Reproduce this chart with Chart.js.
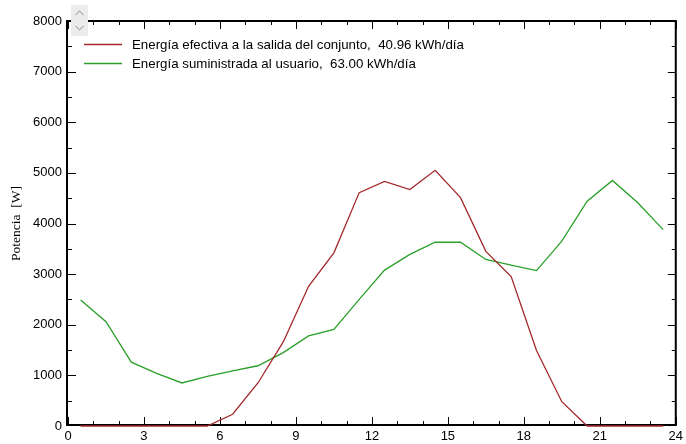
<!DOCTYPE html>
<html>
<head>
<meta charset="utf-8">
<script src="https://cdn.jsdelivr.net/npm/chart.js@4"></script>
<style>
  html, body { margin: 0; padding: 0; background: #fff; }
  #wrap { width: 686px; height: 444px; position: relative; }
</style>
</head>
<body>
<div id="wrap"><canvas id="c" width="686" height="444"></canvas></div>
<script>
// Hourly mean power (W), sampled at the middle of each hour
const hours = [0.5, 1.5, 2.5, 3.5, 4.5, 5.5, 6.5, 7.5, 8.5, 9.5, 10.5, 11.5,
               12.5, 13.5, 14.5, 15.5, 16.5, 17.5, 18.5, 19.5, 20.5, 21.5, 22.5, 23.5];
const efectiva = [0, 0, 0, 0, 0, 0, 232, 850, 1660, 2760, 3420, 4610,
                  4830, 4670, 5050, 4510, 3450, 2950, 1490, 480, 0, 0, 0, 0];
const suministrada = [2490, 2060, 1260, 1040, 850, 980, 1090, 1190, 1450, 1780, 1910, 2500,
                      3080, 3390, 3630, 3630, 3290, 3180, 3070, 3650, 4440, 4850, 4410, 3880];

const seriesNames = ['Energía efectiva a la salida del conjunto', 'Energía suministrada al usuario'];
const dailyTotals = ['40.96', '63.00'];
const seriesColors = ['#a3282c', '#2aa02a'];

const xTicks = [0, 3, 6, 9, 12, 15, 18, 21, 24];
const yTicks = [0, 1000, 2000, 3000, 4000, 5000, 6000, 7000, 8000];
const yTitle = 'Potencia  [W]';

const toPoints = vals => hours.map((h, i) => ({ x: h, y: vals[i] }));

// Frame, inward tick marks and the small scroll widget
const framePlugin = {
  id: 'frame',
  beforeDatasetsDraw(chart) {
    const { ctx, chartArea: a, scales: { x, y } } = chart;
    const bottom = a.bottom - 1; // frame sits just above the zero line
    ctx.save();
    ctx.strokeStyle = '#000';
    ctx.lineWidth = 1;
    // x ticks: every hour, longer every 3 h, bottom and top
    for (let h = 0; h <= 24; h++) {
      const px = Math.round(x.getPixelForValue(h)) + 0.5;
      const len = h % 3 === 0 ? 8 : 4;
      ctx.beginPath();
      ctx.moveTo(px, bottom); ctx.lineTo(px, bottom - len);
      ctx.moveTo(px, a.top); ctx.lineTo(px, a.top + len);
      ctx.stroke();
    }
    // y ticks: every 500 W, longer every 1000 W, left and right
    for (let v = 0; v <= 8000; v += 500) {
      const py = Math.min(Math.round(y.getPixelForValue(v)), bottom - 1) + 0.5;
      const len = v % 1000 === 0 ? 8 : 4;
      ctx.beginPath();
      ctx.moveTo(a.left, py); ctx.lineTo(a.left + len, py);
      ctx.moveTo(a.right, py); ctx.lineTo(a.right - len, py);
      ctx.stroke();
    }
    ctx.lineWidth = 2;
    ctx.beginPath();
    ctx.moveTo(a.left - 1, a.top - 1); ctx.lineTo(a.left - 1, bottom + 1);
    ctx.moveTo(a.right, a.top - 1); ctx.lineTo(a.right, bottom + 1);
    ctx.moveTo(a.left - 2, a.top); ctx.lineTo(a.right + 1, a.top);
    ctx.moveTo(a.left - 2, bottom); ctx.lineTo(a.right + 1, bottom);
    ctx.stroke();

    // scroll widget
    ctx.fillStyle = '#ececec';
    ctx.fillRect(71, 5, 17, 31);
    ctx.strokeStyle = '#b0b0b0';
    ctx.lineWidth = 1.2;
    ctx.beginPath();
    ctx.moveTo(75.5, 15); ctx.lineTo(79.5, 11); ctx.lineTo(83.5, 15);
    ctx.moveTo(75.5, 26); ctx.lineTo(79.5, 30); ctx.lineTo(83.5, 26);
    ctx.stroke();
    ctx.restore();
  },
  afterDatasetsDraw(chart) {
    const { ctx } = chart;
    ctx.save();
    ctx.font = '13.3px "Liberation Sans", Arial, sans-serif';
    ctx.textBaseline = 'middle';
    chart.data.datasets.forEach((ds, i) => {
      const yy = 44 + i * 19;
      ctx.strokeStyle = ds.borderColor;
      ctx.lineWidth = 1.3;
      ctx.beginPath();
      ctx.moveTo(84, yy + 0.5); ctx.lineTo(122, yy + 0.5);
      ctx.stroke();
      ctx.fillStyle = '#000';
      ctx.fillText(ds.label, 132, yy + 1);
    });
    ctx.restore();
  }
};

new Chart(document.getElementById('c'), {
  type: 'line',
  data: {
    datasets: [
      {
        label: seriesNames[0] + ',  ' + dailyTotals[0] + ' kWh/día',
        data: toPoints(efectiva),
        borderColor: seriesColors[0],
        borderWidth: 1.3,
        pointRadius: 0,
        tension: 0,
        fill: false,
        clip: 4
      },
      {
        label: seriesNames[1] + ',  ' + dailyTotals[1] + ' kWh/día',
        data: toPoints(suministrada),
        borderColor: seriesColors[1],
        borderWidth: 1.3,
        pointRadius: 0,
        tension: 0,
        fill: false,
        clip: 4
      }
    ]
  },
  options: {
    responsive: false,
    animation: false,
    devicePixelRatio: 1,
    layout: { padding: { left: 0, top: 21, right: 8, bottom: 0 } },
    plugins: {
      legend: { display: false },
      tooltip: { enabled: false }
    },
    scales: {
      x: {
        type: 'linear',
        min: 0, max: 24,
        afterBuildTicks: s => { s.ticks = xTicks.map(v => ({ value: v })); },
        afterFit: s => { s.height = 18; },
        grid: { display: false, drawTicks: false },
        border: { display: false },
        ticks: {
          padding: 3,
          color: '#000',
          font: { family: '"Liberation Sans", Arial, sans-serif', size: 13 },
          maxRotation: 0,
          autoSkip: false,
          callback: v => String(v)
        }
      },
      y: {
        type: 'linear',
        min: 0, max: 8000,
        afterBuildTicks: s => { s.ticks = yTicks.map(v => ({ value: v })); },
        afterFit: s => { s.width = 68; },
        grid: { display: false, drawTicks: false },
        border: { display: false },
        title: {
          display: true,
          text: yTitle,
          color: '#000',
          font: { family: '"Liberation Serif", "Times New Roman", serif', size: 13.5 },
          padding: { top: 8, bottom: 0 }
        },
        ticks: {
          padding: 6,
          color: '#000',
          font: { family: '"Liberation Sans", Arial, sans-serif', size: 13 },
          autoSkip: false,
          callback: v => String(v)
        }
      }
    }
  },
  plugins: [framePlugin]
});
</script>
</body>
</html>
